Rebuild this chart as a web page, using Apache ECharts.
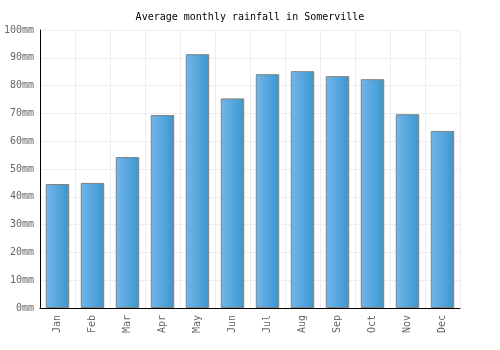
<!DOCTYPE html>
<html>
<head>
<meta charset="utf-8">
<script src="https://cdn.jsdelivr.net/npm/echarts@6/dist/echarts.min.js"></script>
<style>
html,body{margin:0;padding:0;background:#fff;}
#chart{width:500px;height:350px;}
</style>
</head>
<body>
<div id="chart"></div>
<script>
var months = ['Jan','Feb','Mar','Apr','May','Jun','Jul','Aug','Sep','Oct','Nov','Dec'];
var rainfall = [44.6, 45.0, 54.3, 69.4, 91.3, 75.4, 84.1, 85.2, 83.4, 82.3, 69.7, 63.7];

var font = '"DejaVu Sans Mono", monospace';
var myChart = echarts.init(document.getElementById('chart'));

var option = {
    animation: false,
    title: {
        text: 'Average monthly rainfall in Somerville',
        left: 'center',
        top: 7,
        textStyle: {fontFamily: font, fontSize: 10, fontWeight: 'normal', color: '#000'}
    },
    grid: {left: 40, right: 40, top: 30, bottom: 42},
    xAxis: {
        type: 'category',
        data: months,
        axisLine: {lineStyle: {color: '#000', width: 1}},
        axisTick: {show: false},
        splitLine: {show: true, interval: 0, lineStyle: {color: '#eee'}},
        axisLabel: {rotate: 90, interval: 0, margin: 7, fontFamily: font, fontSize: 10, color: '#666'}
    },
    yAxis: {
        type: 'value',
        min: 0,
        max: 100,
        interval: 10,
        axisLine: {show: true, lineStyle: {color: '#000', width: 1}},
        axisTick: {show: false},
        splitLine: {lineStyle: {color: '#eee'}},
        axisLabel: {formatter: '{value}mm', margin: 6, fontFamily: font, fontSize: 10, color: '#666'}
    },
    series: [{
        type: 'bar',
        data: rainfall,
        barCategoryGap: '33%',
        itemStyle: {
            borderColor: '#808080',
            borderWidth: 1,
            color: new echarts.graphic.LinearGradient(0, 0, 1, 0, [
                {offset: 0, color: '#74b6ea'},
                {offset: 1, color: '#3997cf'}
            ])
        }
    }]
};

myChart.setOption(option);
</script>
</body>
</html>
